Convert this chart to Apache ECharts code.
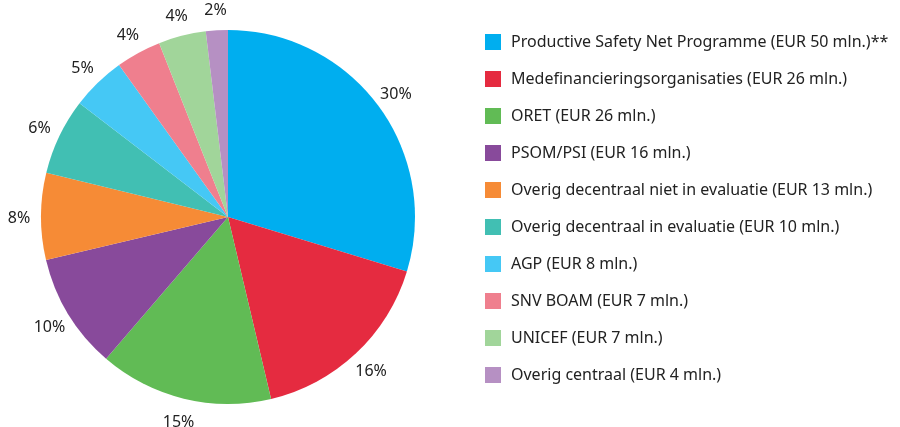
<!DOCTYPE html>
<html><head><meta charset="utf-8">
<script src="https://cdn.jsdelivr.net/npm/echarts@6/dist/echarts.min.js"></script>
<style>html,body{margin:0;padding:0;background:#fff}#c{width:900px;height:427px}</style>
</head><body><div id="c"></div>
<script>
const categories = [
  'Productive Safety Net Programme (EUR 50 mln.)**',
  'Medefinancieringsorganisaties (EUR 26 mln.)',
  'ORET (EUR 26 mln.)',
  'PSOM/PSI (EUR 16 mln.)',
  'Overig decentraal niet in evaluatie (EUR 13 mln.)',
  'Overig decentraal in evaluatie (EUR 10 mln.)',
  'AGP (EUR 8 mln.)',
  'SNV BOAM (EUR 7 mln.)',
  'UNICEF (EUR 7 mln.)',
  'Overig centraal (EUR 4 mln.)'
];
const shares = [29.7, 16.6, 15.0, 10.0, 7.5, 6.6, 4.7, 3.9, 4.1, 1.9];
const percentLabels = ['30%', '16%', '15%', '10%', '8%', '6%', '5%', '4%', '4%', '2%'];
const colors = ['#00AEEF', '#E52B40', '#61BB55', '#884A9B', '#F68B36', '#41BFB3', '#45C8F5', '#EF7F8E', '#A1D59A', '#B690C3'];

const FONT = 'Noto Sans';
const chart = echarts.init(document.getElementById('c'), null, {renderer: 'canvas'});
const pieData = categories.map((n, i) => ({name: n, value: shares[i], itemStyle: {color: colors[i]}}));
const labelData = categories.map((n, i) => ({name: n, value: shares[i], label: {formatter: percentLabels[i]}}));
chart.setOption({
  animation: false,
  color: colors,
  legend: {
    orient: 'vertical', left: 480, top: 29,
    itemWidth: 16, itemHeight: 16, itemGap: 21,
    icon: 'rect',
    textStyle: {fontFamily: FONT, fontSize: 16, color: '#222', padding: [0, 0, 0, 5]},
    data: categories
  },
  series: [
    {
      type: 'pie', center: [228, 217], radius: [0, 187], startAngle: 90, clockwise: true,
      data: pieData, label: {show: false}, labelLine: {show: false},
      itemStyle: {borderWidth: 0}, emphasis: {disabled: true}, silent: true
    },
    {
      type: 'pie', center: [228, 219], radius: [197, 215], startAngle: 90, clockwise: true,
      data: labelData, legendHoverLink: false,
      itemStyle: {color: 'rgba(0,0,0,0)'},
      label: {show: true, position: 'inside', fontFamily: FONT, fontSize: 16, color: '#222'},
      labelLine: {show: false}, emphasis: {disabled: true}, silent: true
    }
  ]
});
</script></body></html>
